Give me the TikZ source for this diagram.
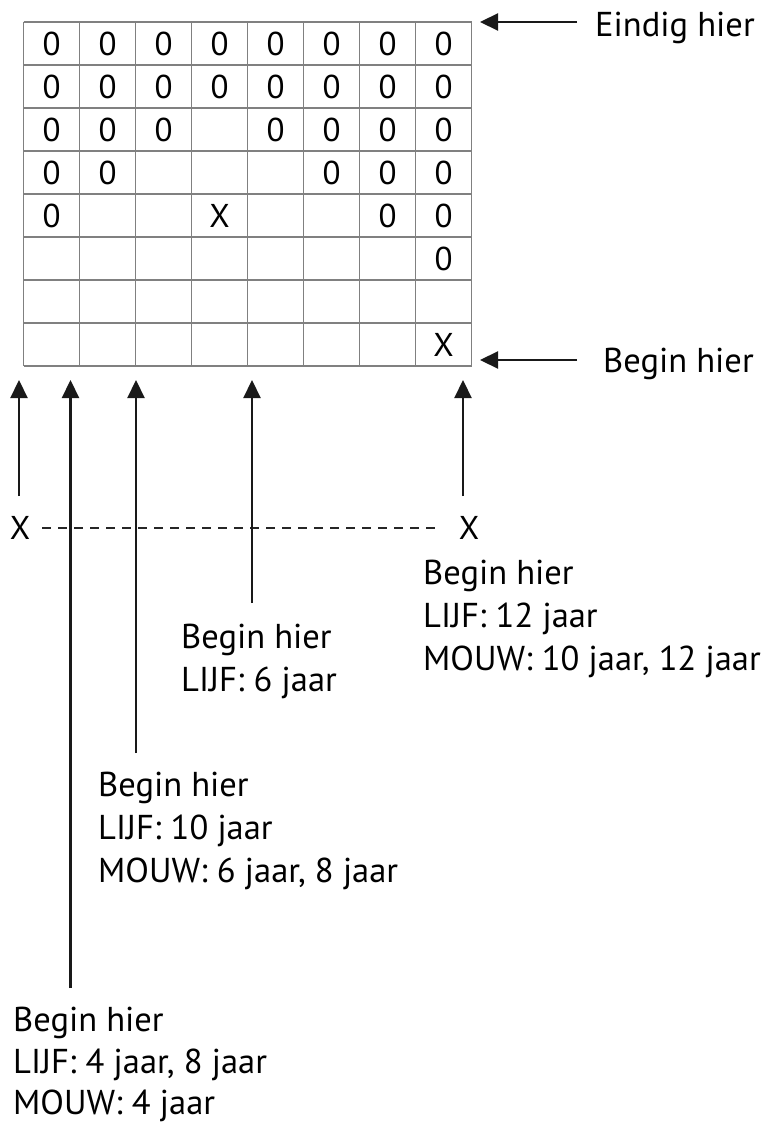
\documentclass[tikz,border=0pt]{standalone}
\usepackage{fontspec}
\setmainfont{PT Sans}
\usetikzlibrary{arrows.meta}
\begin{document}
\begin{tikzpicture}[x=1pt,y=-1pt,
  gridline/.style={draw=black!50, line width=1.4pt},
  cell/.style={font=\fontsize{33}{36}\selectfont, inner sep=0pt},
  lbl/.style={font=\fontsize{34.5}{43}\selectfont, anchor=base west, inner sep=0pt},
  arr/.style={-{Triangle[width=17pt,length=18pt]}, line width=2.2pt, draw=black!90},
  dashline/.style={dashed, dash pattern=on 9pt off 7pt, line width=1.6pt, draw=black!85}
]
\useasboundingbox (0,0) rectangle (772,1124);
\fill[white] (0,0) rectangle (772,1124);
% grid
\foreach \i in {0,...,8} {
  \draw[gridline] ({23.5+56*\i},22) -- ({23.5+56*\i},366);
  \draw[gridline] (23.5,{22+43*\i}) -- (471.5,{22+43*\i});
}
% cell symbols
\foreach \c/\r/\s in {1/1/0,2/1/0,3/1/0,4/1/0,5/1/0,6/1/0,7/1/0,8/1/0,
  1/2/0,2/2/0,3/2/0,4/2/0,5/2/0,6/2/0,7/2/0,8/2/0,
  1/3/0,2/3/0,3/3/0,5/3/0,6/3/0,7/3/0,8/3/0,
  1/4/0,2/4/0,6/4/0,7/4/0,8/4/0,
  1/5/0,4/5/X,7/5/0,8/5/0,
  8/6/0,8/8/X} {
  \node[cell] (c\c\r) at ({51.5+56*(\c-1)},{43.5+43*(\r-1)}) {\s};
}
% right side arrows and labels
\node[lbl] (eind) at (595,37) {Eindig hier};
\node[lbl] (begr) at (603,372) {Begin hier};
\coordinate (eindtip) at (480,22);
\coordinate (begtip) at (480,360);
\draw[arr] ([xshift=-18pt]eind.west |- eindtip) -- (eindtip);
\draw[arr] ([xshift=-26pt]begr.west |- begtip) -- (begtip);
% X marks and dashed line
\node[cell] (xl) at (20,528) {X};
\node[cell] (xr) at (469,528) {X};
\draw[dashline, shorten <=12pt, shorten >=19pt] (xl.east) -- (xr.west);
% arrow tips below grid
\coordinate (t1) at (19,380);
\coordinate (t2) at (70.5,380);
\coordinate (t3) at (136,380);
\coordinate (t4) at (252,380);
\coordinate (t5) at (463,380);
\coordinate (b1) at (19,496);
\coordinate (b5) at (463,496);
% labels
\node[lbl] (r1) at (423,584) {Begin hier};
\node[lbl] (r2) at (423,627) {LIJF: 12 jaar};
\node[lbl] (r3) at (423,670) {MOUW: 10 jaar, 12 jaar};
\node[lbl] (s1) at (181,648) {Begin hier};
\node[lbl] (s2) at (181,691) {LIJF: 6 jaar};
\node[lbl] (m1) at (98,796) {Begin hier};
\node[lbl] (m2) at (98,839) {LIJF: 10 jaar};
\node[lbl] (m3) at (98,882) {MOUW: 6 jaar, 8 jaar};
\node[lbl] (f1) at (13,1031) {Begin hier};
\node[lbl] (f2) at (13,1073) {LIJF: 4 jaar, 8 jaar};
\node[lbl] (f3) at (13,1114) {MOUW: 4 jaar};
\coordinate (b4) at (252,603);
\coordinate (b3) at (136,753);
\coordinate (b2) at (70.5,988);
\draw[arr] (b1) -- (t1);
\draw[arr] (b2) -- (t2);
\draw[arr] (b3) -- (t3);
\draw[arr] (b4) -- (t4);
\draw[arr] (b5) -- (t5);
\end{tikzpicture}
\end{document}
